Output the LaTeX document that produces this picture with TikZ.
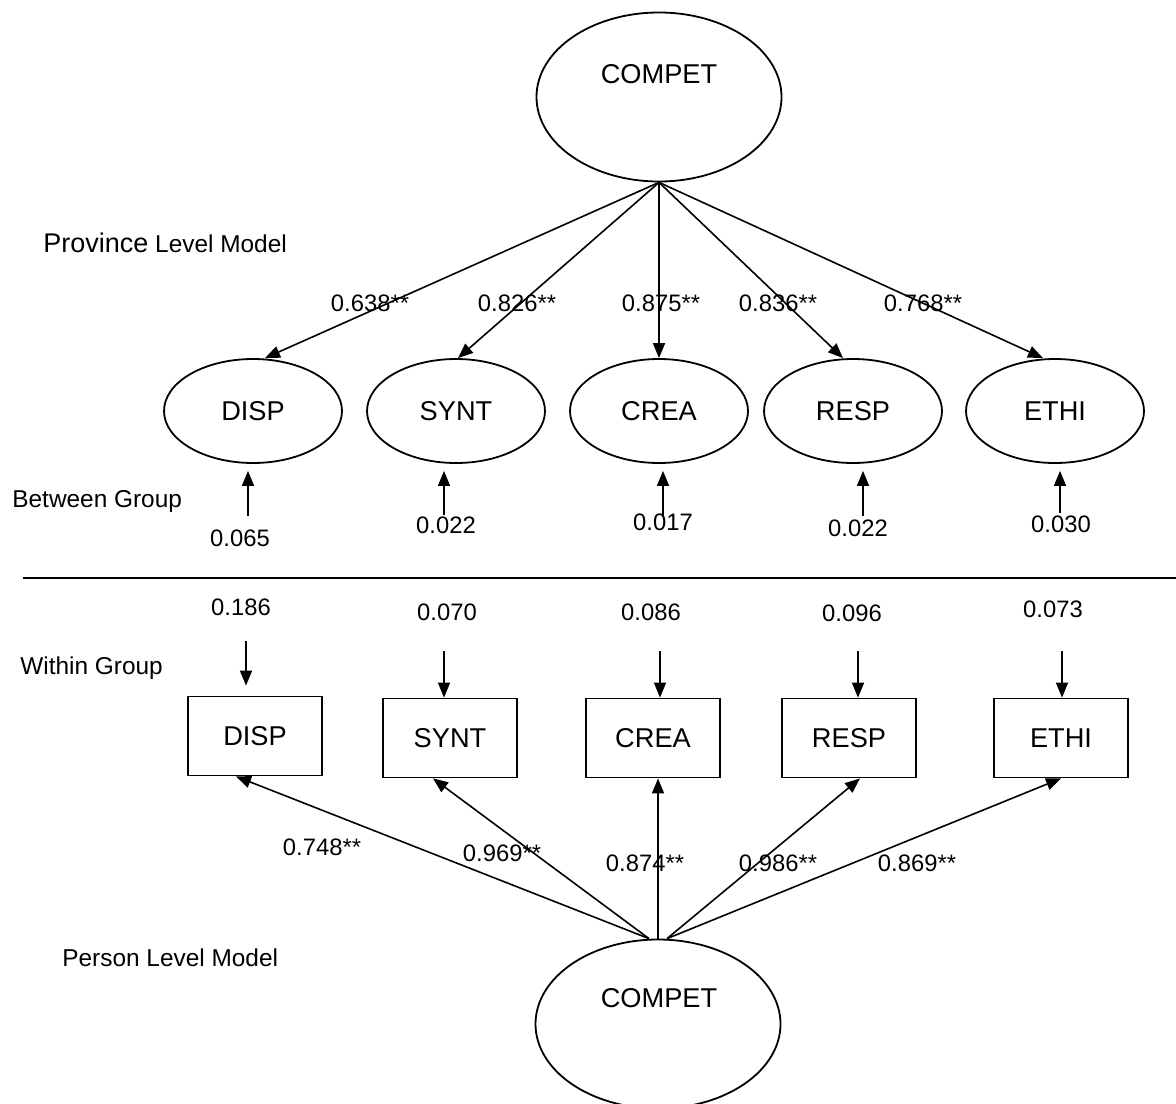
\documentclass[tikz,border=0pt]{standalone}
\usepackage{fontspec}
\setmainfont{Liberation Sans}
\usetikzlibrary{arrows.meta, shapes.geometric, positioning}

\newcommand{\namefont}{\fontsize{13.6}{16}\selectfont}
\newcommand{\coeffont}{\fontsize{11.9}{14}\selectfont}
\newcommand{\sidefont}{\fontsize{12.2}{14}\selectfont}

\tikzset{
  latent/.style={draw, ellipse, line width=0.9pt, minimum width=89pt, minimum height=52pt, inner sep=0pt, font=\namefont},
  latentbig/.style={draw, ellipse, line width=0.9pt, minimum width=122.5pt, minimum height=84.5pt, inner sep=0pt},
  observed/.style={draw, rectangle, line width=0.9pt, minimum width=67pt, minimum height=39.5pt, inner sep=0pt, font=\namefont},
  coef/.style={font=\coeffont, inner sep=0pt},
  side/.style={font=\sidefont, inner sep=0pt, anchor=west},
  path/.style={line width=0.8pt, -{Triangle[length=7.5pt,width=6pt]}}
}

\begin{document}
\begin{tikzpicture}[x=0.5pt, y=-0.5pt]
\useasboundingbox (0,0) rectangle (1176,1103);

% Province level factor
\node[latentbig] (compB) at (659,97) {};
\node[font=\namefont] (compBlbl) at (659,74) {COMPET};

% Between group factors
\node[latent] (dispB) at (253,411) {DISP};
\node[latent] (syntB) at (456,411) {SYNT};
\node[latent] (creaB) at (659,411) {CREA};
\node[latent] (respB) at (853,411) {RESP};
\node[latent] (ethiB) at (1055,411) {ETHI};

% Loadings (province)
\draw[path] (compB.south) -- ([xshift=6pt]dispB.north);
\draw[path] (compB.south) -- ([xshift=1pt]syntB.north);
\draw[path] (compB.south) -- (creaB.north);
\draw[path] (compB.south) -- ([xshift=-5pt]respB.north);
\draw[path] (compB.south) -- ([xshift=-6pt]ethiB.north);
\node[coef] (lDispB) at (370,303) {0.638**};
\node[coef] (lSyntB) at (517,303) {0.826**};
\node[coef] (lCreaB) at (661,303) {0.875**};
\node[coef] (lRespB) at (778,303) {0.836**};
\node[coef] (lEthiB) at (923,303) {0.768**};

% Residuals (between)
\coordinate (rDispB) at (248,516);
\coordinate (rSyntB) at (444,515);
\coordinate (rCreaB) at (663,517);
\coordinate (rRespB) at (863,516);
\coordinate (rEthiB) at (1060,513);
\draw[path, shorten >=3.5pt] (rDispB) -- (rDispB |- dispB.south);
\draw[path, shorten >=3.5pt] (rSyntB) -- (rSyntB |- syntB.south);
\draw[path, shorten >=3.5pt] (rCreaB) -- (rCreaB |- creaB.south);
\draw[path, shorten >=3.5pt] (rRespB) -- (rRespB |- respB.south);
\draw[path, shorten >=3.5pt] (rEthiB) -- (rEthiB |- ethiB.south);
\node[coef] (eDispB) at (240,538) {0.065};
\node[coef] (eSyntB) at (446,525) {0.022};
\node[coef] (eCreaB) at (663,522) {0.017};
\node[coef] (eRespB) at (858,528) {0.022};
\node[coef] (eEthiB) at (1061,524) {0.030};

% Level divider
\draw[line width=1pt] (23,578) -- (1176,578);

% Within group indicators
\node[observed] (dispW) at (255,736) {DISP};
\node[observed] (syntW) at (450,738) {SYNT};
\node[observed] (creaW) at (653,738) {CREA};
\node[observed] (respW) at (849,738) {RESP};
\node[observed] (ethiW) at (1061,738) {ETHI};

% Residuals (within)
\coordinate (rDispW) at (246,641);
\coordinate (rSyntW) at (444,651);
\coordinate (rCreaW) at (660,651);
\coordinate (rRespW) at (858,651);
\coordinate (rEthiW) at (1062,651);
\draw[path, shorten >=5pt] (rDispW) -- (rDispW |- dispW.north);
\draw[path] (rSyntW) -- (rSyntW |- syntW.north);
\draw[path] (rCreaW) -- (rCreaW |- creaW.north);
\draw[path] (rRespW) -- (rRespW |- respW.north);
\draw[path] (rEthiW) -- (rEthiW |- ethiW.north);
\node[coef] (eDispW) at (241,607) {0.186};
\node[coef] (eSyntW) at (447,612) {0.070};
\node[coef] (eCreaW) at (651,612) {0.086};
\node[coef] (eRespW) at (852,613) {0.096};
\node[coef] (eEthiW) at (1053,609) {0.073};

% Person level factor
\node[latentbig] (compP) at (658,1024) {};
\node[font=\namefont] (compPlbl) at (659,998) {COMPET};

% Loadings (person)
\draw[path] ([xshift=-4.5pt]compP.north) -- ([xshift=-9.5pt]dispW.south);
\draw[path] ([xshift=-4.5pt]compP.north) -- ([xshift=-8.5pt]syntW.south);
\draw[path] (compP.north) -- ([xshift=2.5pt]creaW.south);
\draw[path] ([xshift=4.5pt]compP.north) -- ([xshift=5.5pt]respW.south);
\draw[path] ([xshift=4.5pt]compP.north) -- (ethiW.south);
\node[coef] (lDispW) at (322,847) {0.748**};
\node[coef] (lSyntW) at (502,853) {0.969**};
\node[coef] (lCreaW) at (645,863) {0.874**};
\node[coef] (lRespW) at (778,863) {0.986**};
\node[coef] (lEthiW) at (917,863) {0.869**};

% Side labels
\node[side] (provLbl) at (43,243) {{\fontsize{13.5}{16}\selectfont Province} Level Model};
\node[side] (betwLbl) at (12,502) {Between Group};
\node[side] (withLbl) at (20,668) {Within Group};
\node[side] (persLbl) at (62,958) {Person Level Model};
\end{tikzpicture}
\end{document}
